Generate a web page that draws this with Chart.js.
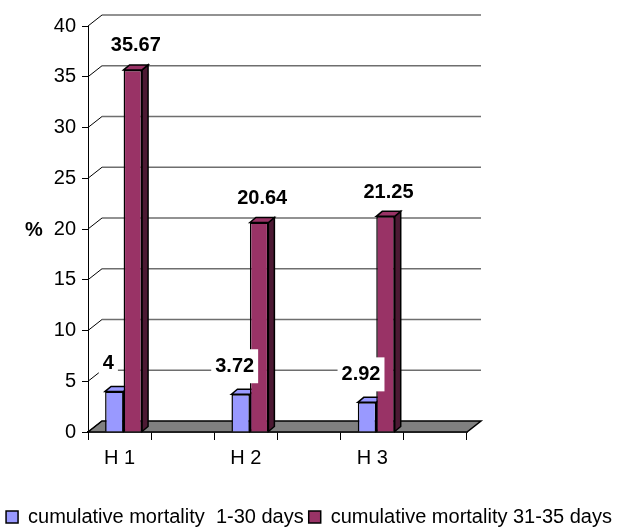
<!DOCTYPE html>
<html>
<head>
<meta charset="utf-8">
<script src="https://cdn.jsdelivr.net/npm/chart.js@4.4.1/dist/chart.umd.min.js"></script>
<style>
  body { margin: 0; background: #fff; }
  canvas { display: block; }
</style>
</head>
<body>
<canvas id="my-chart" width="618" height="527"></canvas>
<script>
// categories (every other slot is empty, like the original sheet)
const categories = ['H 1', '', 'H 2', '', 'H 3', ''];
const seriesNames = ['cumulative mortality  1-30 days', 'cumulative mortality 31-35 days'];
const mortality1to30 = [4, null, 3.72, null, 2.92, null];
const mortality31to35 = [35.67, null, 20.64, null, 21.25, null];
const yMin = 0, yMax = 40, yStep = 5;
const yTitle = '%';

const FONT = 'Arial, "Liberation Sans", sans-serif';
const wallDx = 14, wallDy = 11;   // depth of back wall
const barDx = 6, barDy = 5;       // depth of each bar
const barShift = 4;               // bars sit a bit into the depth
const sideColors = ['#4c4c80', '#4c1933'];

// helper: fill + stroke a polygon
function poly(ctx, pts, fill, stroke, lw) {
	ctx.beginPath();
	ctx.moveTo(pts[0][0], pts[0][1]);
	for (let i = 1; i < pts.length; i++) ctx.lineTo(pts[i][0], pts[i][1]);
	ctx.closePath();
	if (fill) { ctx.fillStyle = fill; ctx.fill(); }
	if (stroke) { ctx.strokeStyle = stroke; ctx.lineWidth = lw; ctx.stroke(); }
}

const fake3d = {
	id: 'fake3d',
	afterDatasetsUpdate(chart) {
		chart.data.datasets.forEach((ds, di) => {
			chart.getDatasetMeta(di).data.forEach(bar => { bar.x += barShift; });
		});
	},
	beforeDatasetsDraw(chart) {
		const ctx = chart.ctx;
		const x = chart.scales.x, y = chart.scales.y;
		const L = x.left, R = x.right, B = y.bottom;
		ctx.save();
		// floor
		poly(ctx, [[L, B], [R, B], [R + wallDx, B - wallDy], [L + wallDx, B - wallDy]], '#808080', '#000', 1.5);
		// back wall grid + diagonals from the axis
		for (let v = yMin; v <= yMax; v += yStep) {
			const py = y.getPixelForValue(v);
			if (v > yMin) {
				ctx.beginPath();
				ctx.moveTo(L + wallDx, py - wallDy);
				ctx.lineTo(R + wallDx, py - wallDy);
				ctx.strokeStyle = '#6e6e6e';
				ctx.lineWidth = 1.5;
				ctx.stroke();
			}
			ctx.beginPath();
			ctx.moveTo(L, py);
			ctx.lineTo(L + wallDx, py - wallDy);
			ctx.strokeStyle = '#000';
			ctx.lineWidth = 1;
			ctx.stroke();
		}
		// bar tops and sides
		chart.data.datasets.forEach((ds, di) => {
			chart.getDatasetMeta(di).data.forEach((bar, i) => {
				if (ds.data[i] == null) return;
				const l = bar.x - bar.width / 2, r = bar.x + bar.width / 2;
				poly(ctx, [[r, bar.y], [r + barDx, bar.y - barDy], [r + barDx, bar.base - barDy], [r, bar.base]], sideColors[di], '#000', 1.5);
				poly(ctx, [[l, bar.y], [l + barDx, bar.y - barDy], [r + barDx, bar.y - barDy], [r, bar.y]], ds.backgroundColor, '#000', 1.5);
			});
		});
		ctx.restore();
	},
	afterDatasetsDraw(chart) {
		const ctx = chart.ctx;
		ctx.save();
		ctx.font = 'bold 20px ' + FONT;
		ctx.textAlign = 'center';
		ctx.textBaseline = 'middle';
		chart.data.datasets.forEach((ds, di) => {
			chart.getDatasetMeta(di).data.forEach((bar, i) => {
				const v = ds.data[i];
				if (v == null) return;
				const txt = String(v);
				const cx = di === 0 ? bar.x - 6 : bar.x + 3;
				const cy = di === 0 ? bar.y - 28 : bar.y - 24;
				const w = ctx.measureText(txt).width + 8;
				ctx.fillStyle = '#fff';
				ctx.fillRect(cx - w / 2, cy - 17, w, 34);
				ctx.fillStyle = '#000';
				ctx.fillText(txt, cx, cy);
			});
		});
		// axis title, horizontal
		const y = chart.scales.y;
		ctx.fillText(yTitle, 34, (y.top + y.bottom) / 2 + 1);
		ctx.restore();
	}
};

const ctxBar = document.getElementById('my-chart').getContext('2d');
const myChart = new Chart(ctxBar, {
	type: 'bar',
	data: {
		labels: categories,
		datasets: [
			{
				label: seriesNames[0],
				data: mortality1to30,
				backgroundColor: '#9999ff',
				borderColor: '#000',
				borderWidth: 1.5
			},
			{
				label: seriesNames[1],
				data: mortality31to35,
				backgroundColor: '#993366',
				borderColor: '#000',
				borderWidth: 1.5
			}
		]
	},
	options: {
		responsive: false,
		animation: false,
		devicePixelRatio: 1,
		categoryPercentage: 0.585,
		barPercentage: 1,
		layout: { padding: { top: 26, left: 0, right: 0, bottom: -10 } },
		scales: {
			x: {
				grid: { drawOnChartArea: false, tickLength: 8, color: '#000', lineWidth: 1 },
				border: { display: true, color: '#000', width: 1.5 },
				ticks: { color: '#000', font: { family: FONT, size: 20 }, padding: 6, maxRotation: 0, autoSkip: false },
				afterFit(s) { s.height = 70; }
			},
			y: {
				min: yMin,
				max: yMax,
				grid: { drawOnChartArea: false, tickLength: 6, color: '#000', lineWidth: 1 },
				border: { display: true, color: '#000', width: 1 },
				ticks: { stepSize: yStep, color: '#000', font: { family: FONT, size: 20 }, padding: 6 },
				afterFit(s) { s.width = 88; }
			},
			// empty axis that only keeps room on the right
			spacer: {
				type: 'linear',
				position: 'right',
				grid: { display: false },
				border: { display: false },
				ticks: { display: false },
				afterFit(s) { s.width = 151; }
			}
		},
		plugins: {
			legend: {
				position: 'bottom',
				labels: {
					color: '#000',
					font: { family: FONT, size: 20 },
					boxWidth: 12,
					boxHeight: 12,
					padding: 5
				}
			},
			tooltip: { enabled: false }
		}
	},
	plugins: [fake3d]
});
</script>
</body>
</html>
